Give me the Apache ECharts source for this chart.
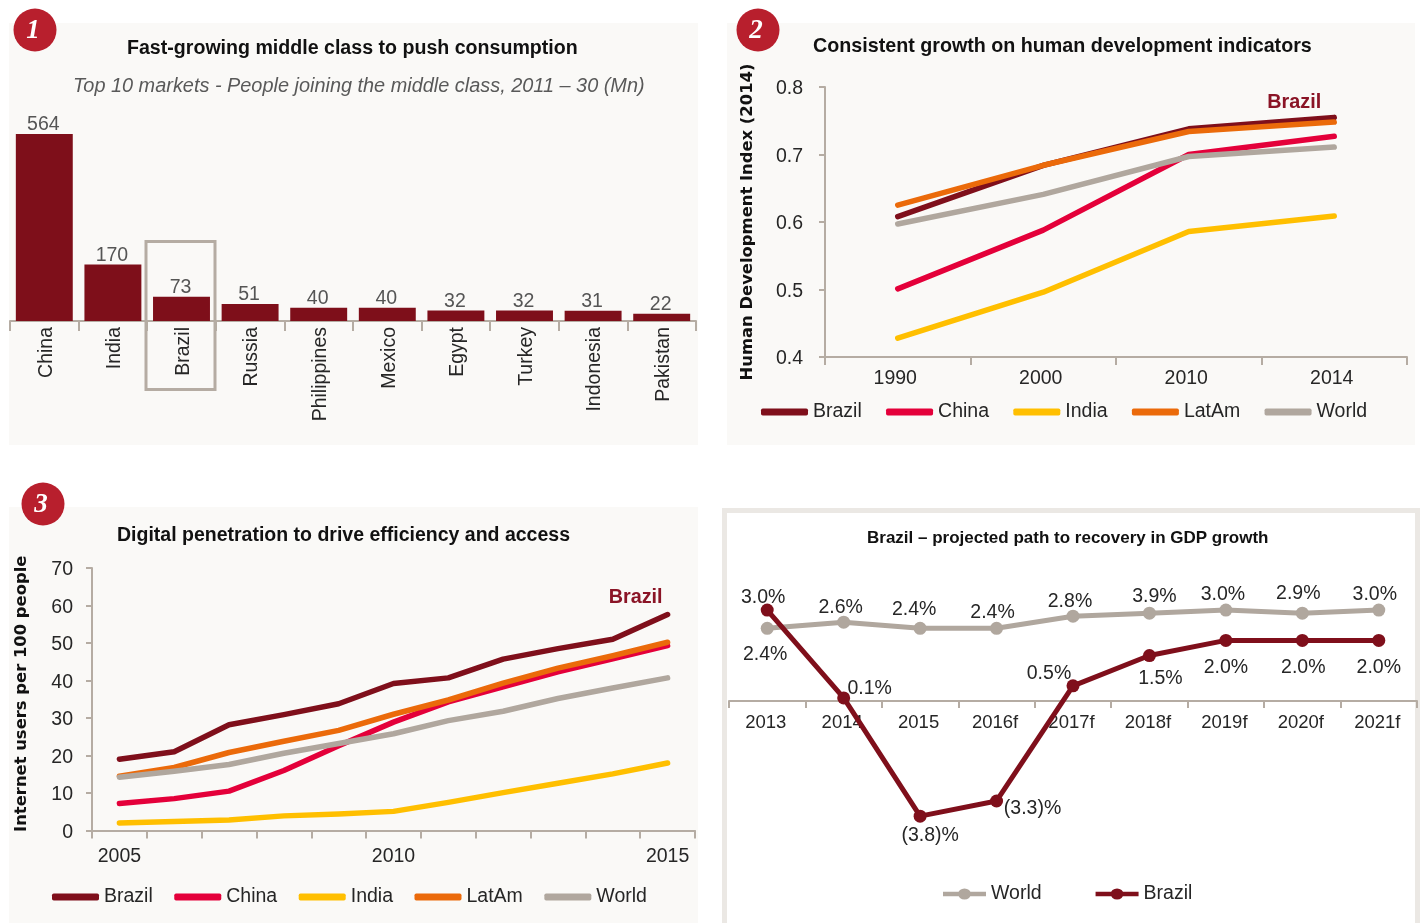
<!DOCTYPE html>
<html><head><meta charset="utf-8">
<style>html,body{margin:0;padding:0;background:#fff}#c{width:1423px;height:923px}</style>
<script src="https://cdn.jsdelivr.net/npm/echarts@6/dist/echarts.min.js"></script>
</head><body><div id="c"></div>
<script>
const marketCats=['China','India','Brazil','Russia','Philippines','Mexico','Egypt','Turkey','Indonesia','Pakistan'];
const marketVals=[564,170,73,51,40,40,32,32,31,22];

const hdiCats=['1990','2000','2010','2014'];
const hdiBrazil=[0.608,0.684,0.738,0.755];
const hdiChina=[0.501,0.588,0.700,0.727];
const hdiIndia=[0.428,0.496,0.586,0.609];
const hdiLatAm=[0.625,0.684,0.734,0.748];
const hdiWorld=[0.597,0.641,0.697,0.711];

const netCats=['2005','2006','2007','2008','2009','2010','2011','2012','2013','2014','2015'];
const netBrazil=[19,21,28.2,30.9,33.8,39.2,40.7,45.7,48.5,51,57.6];
const netChina=[7.2,8.5,10.5,16,22.6,28.9,34.3,38.3,42.3,45.8,49.3];
const netIndia=[2,2.4,2.8,3.9,4.4,5.1,7.5,10.1,12.6,15.1,18];
const netLatAm=[14.5,16.8,20.8,23.8,26.7,31,34.8,39.3,43.3,46.6,50.2];
const netWorld=[14.2,15.8,17.6,20.6,23.2,25.8,29.3,31.8,35.2,38,40.7];

const gdpCats=['2013','2014','2015','2016f','2017f','2018f','2019f','2020f','2021f'];
const gdpWorld=[2.4,2.6,2.4,2.4,2.8,2.9,3.0,2.9,3.0];
const gdpBrazil=[3.0,0.1,-3.8,-3.3,0.5,1.5,2.0,2.0,2.0];
const gdpWorldLabels=['2.4%','2.6%','2.4%','2.4%','2.8%','3.9%','3.0%','2.9%','3.0%'];
const gdpBrazilLabels=['3.0%','0.1%','(3.8)%','(3.3)%','0.5%','1.5%','2.0%','2.0%','2.0%'];
const gdpWorldOffsets=[[-2,26],[-3,-15],[-6,-19],[-4,-16],[-3,-15],[5,-17],[-3,-15],[-4,-20],[-4,-15]];
const gdpBrazilOffsets=[[-4,-12],[26,-9],[10,19],[36,8],[-24,-12],[11,23],[0,27],[1,27],[0,27]];

const C={brazil:'#7f0f1b',china:'#e4003a',india:'#ffbf00',latam:'#eb6a0a',world:'#b0a79e',
  axis:'#b5aca3',text:'#262626',soft:'#555555',panel:'#faf9f7',badge:'#b81f2d'};
const FONT='"Liberation Sans", Arial, sans-serif';
const lineNames=['Brazil','China','India','LatAm','World'];

function rect(x,y,w,h,fill,stroke,lw){return {type:'rect',shape:{x,y,width:w,height:h},
  style:{fill:fill||'transparent',stroke:stroke||null,lineWidth:lw||0},silent:true,z:0};}
function badge(x,y,t){return {type:'group',silent:true,z:1,children:[
  {type:'circle',shape:{cx:x,cy:y,r:21.5},style:{fill:C.badge}},
  {type:'text',x:x-2,y:y+1,style:{text:t,fill:'#fff',font:'italic bold 27px "Liberation Serif", serif',align:'center',verticalAlign:'middle'}}]};}
function ttl(text,left,top,size,extra){return {text,left,top,padding:0,textStyle:Object.assign({fontFamily:FONT,fontSize:size,fontWeight:'bold',color:'#111'},extra||{})};}
function legend(names,left,top,gap,extra){return Object.assign({data:names,left,top,padding:0,orient:'horizontal',itemWidth:47,itemHeight:6,itemGap:gap,
  icon:'roundRect',selectedMode:false,textStyle:{fontFamily:FONT,fontSize:19.5,color:C.text,padding:[0,0,0,0]}},extra||{});}
function lineSeries(name,color,data,gi,endOffset){
  const s={type:'line',name,data,xAxisIndex:gi,yAxisIndex:gi,symbol:'none',smooth:false,animation:false,
    lineStyle:{color,width:5.5,cap:'round',join:'round'},itemStyle:{color},emphasis:{disabled:true}};
  if(endOffset) s.endLabel={show:true,formatter:name,distance:0,offset:endOffset,align:'center',verticalAlign:'middle',
    color:'#8a1426',fontFamily:FONT,fontWeight:'bold',fontSize:19.8};
  return s;
}
function catAxis(gi,data,o){return Object.assign({type:'category',gridIndex:gi,data,boundaryGap:true,
  axisLine:{lineStyle:{color:C.axis,width:2}},axisTick:{show:true,interval:0,alignWithLabel:false,length:8,lineStyle:{color:C.axis,width:2}},
  axisLabel:{interval:0,hideOverlap:false,fontFamily:FONT,fontSize:19.5,color:C.text,margin:12,padding:[0,5,0,0]},splitLine:{show:false}},o||{});}
function valAxis(gi,min,max,step,name,gap,namePad,margin,fmt){return {type:'value',gridIndex:gi,min,max,interval:step,
  name,nameLocation:'middle',nameGap:gap,nameRotate:90,nameTextStyle:{fontFamily:'"DejaVu Sans", sans-serif',fontWeight:'bold',fontSize:16.4,color:'#111',padding:namePad},
  axisLine:{show:true,lineStyle:{color:C.axis,width:2}},axisTick:{show:true,length:6,lineStyle:{color:C.axis,width:2}},
  axisLabel:{fontFamily:FONT,fontSize:19.5,color:C.text,margin,verticalAlign:'top',padding:[-8,0,0,0],formatter:fmt},splitLine:{show:false}};}
function gdpSeries(name,color,vals,labels,offs){
  return {type:'line',name,xAxisIndex:3,yAxisIndex:3,symbol:'circle',symbolSize:13,animation:false,
    lineStyle:{color,width:5,cap:'round',join:'round'},itemStyle:{color},emphasis:{disabled:true},
    data:vals.map((v,i)=>({value:v,label:{show:true,formatter:labels[i],position:'inside',offset:offs[i],
      fontFamily:FONT,fontSize:19.5,color:C.text}}))};
}

const chart=echarts.init(document.getElementById('c'),null,{renderer:'canvas'});
chart.setOption({
  animation:false,backgroundColor:'#fff',
  graphic:[
    rect(9,23,689,422,C.panel),rect(727,23,688,422,C.panel),rect(9,507,689,416,C.panel),
    rect(724.5,510.5,693,415,'#fff','#ebe8e4',5),
    rect(146,241.5,69,148,null,C.axis,3),
    badge(35,30,'1'),badge(758,30,'2'),badge(43,504,'3')
  ],
  title:[
    ttl('Fast-growing middle class to push consumption',127,39,19.6),
    ttl('Top 10 markets - People joining the middle class, 2011 – 30 (Mn)',73,76,19.9,{fontStyle:'italic',fontWeight:'normal',color:'#595959'}),
    ttl('Consistent growth on human development indicators',813,37,19.7),
    ttl('Digital penetration to drive efficiency and access',117,526,19.5),
    ttl('Brazil – projected path to recovery in GDP growth',867,530,17)
  ],
  legend:[
    legend(lineNames,761,402,24.3,{itemHeight:7}),
    legend(lineNames,52,887,21.5,{itemHeight:7}),
    legend(['World','Brazil'],943,884,54,{itemWidth:43,itemHeight:12,icon:'path://M0 3.5H47V8.5H0ZM30.5 6a7 6 0 1 1-14 0a7 6 0 1 1 14 0Z'})
  ],
  grid:[
    {left:10,top:122,width:686,height:199},
    {left:825,top:87,width:582,height:270},
    {left:92,top:568,width:603,height:262.5},
    {left:729,top:549.5,width:688,height:303}
  ],
  xAxis:[
    catAxis(0,marketCats,{axisTick:{show:true,interval:0,length:10,lineStyle:{color:C.axis,width:2}},
      axisLabel:{interval:0,hideOverlap:false,rotate:90,fontFamily:FONT,fontSize:19.5,color:C.text,margin:6,verticalAlign:'top',padding:[-8,0,0,0]}}),
    catAxis(1,hdiCats),
    catAxis(2,netCats,{axisLabel:{interval:4,hideOverlap:false,fontFamily:FONT,fontSize:19.5,color:C.text,margin:16}}),
    catAxis(3,gdpCats,{axisLine:{onZero:false,lineStyle:{color:C.axis,width:2}},offset:-151.5,
      axisTick:{show:true,interval:0,length:7,lineStyle:{color:C.axis,width:2}},
      axisLabel:{interval:0,hideOverlap:false,fontFamily:FONT,fontSize:18.5,color:C.text,margin:12,padding:[0,3,0,0]}})
  ],
  yAxis:[
    {type:'value',gridIndex:0,min:0,max:600,show:false},
    valAxis(1,0.4,0.8,0.1,'Human Development Index (2014)',69,[0,0,0,0],22,v=>v.toFixed(1)),
    valAxis(2,0,70,10,'Internet users per 100 people',62,[0,0,0,11],19),
    {type:'value',gridIndex:3,min:-5,max:5,show:false}
  ],
  series:[
    {type:'bar',data:marketVals,xAxisIndex:0,yAxisIndex:0,barCategoryGap:'17%',itemStyle:{color:'#7e0f1a'},emphasis:{disabled:true},
      label:{show:true,position:'top',distance:-1,fontFamily:FONT,fontSize:19.5,color:C.soft,padding:[0,2,0,0]}},
    lineSeries('Brazil',C.brazil,hdiBrazil,1,[-40,-15]),
    lineSeries('China',C.china,hdiChina,1),
    lineSeries('India',C.india,hdiIndia,1),
    lineSeries('LatAm',C.latam,hdiLatAm,1),
    lineSeries('World',C.world,hdiWorld,1),
    lineSeries('Brazil',C.brazil,netBrazil,2,[-32,-17]),
    lineSeries('China',C.china,netChina,2),
    lineSeries('India',C.india,netIndia,2),
    lineSeries('LatAm',C.latam,netLatAm,2),
    lineSeries('World',C.world,netWorld,2),
    gdpSeries('World',C.world,gdpWorld,gdpWorldLabels,gdpWorldOffsets),
    gdpSeries('Brazil',C.brazil,gdpBrazil,gdpBrazilLabels,gdpBrazilOffsets)
  ]
});
</script></body></html>
